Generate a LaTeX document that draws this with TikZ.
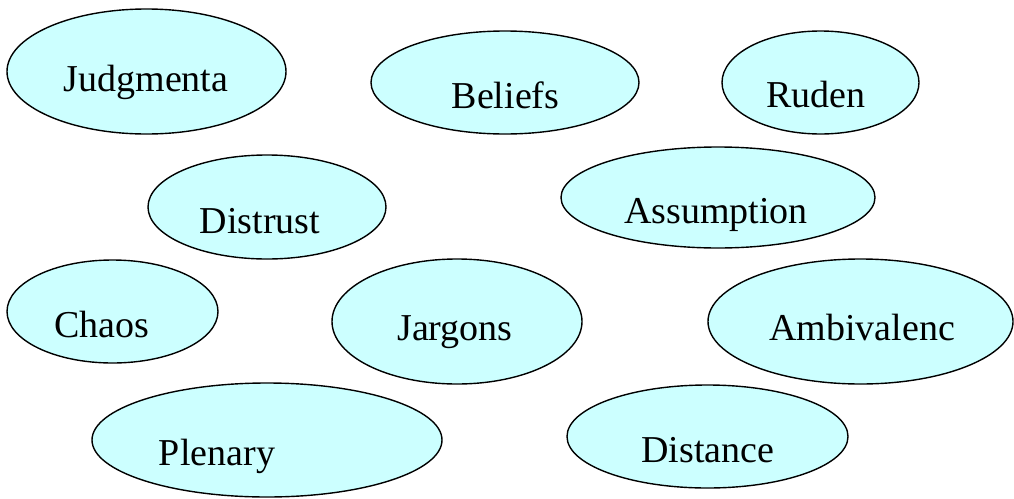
\documentclass[tikz,border=0pt]{standalone}
\usepackage{fontspec}
\setmainfont{Liberation Serif}
\usetikzlibrary{shapes.geometric}
\definecolor{bubblefill}{HTML}{CCFFFF}
\tikzset{
  bubble/.style={ellipse, draw=black, line width=1.4pt, fill=bubblefill, inner sep=0pt, outer sep=0pt},
  lbl/.style={anchor=base, inner sep=0pt, font=\fontsize{38}{40}\selectfont, text=black}
}
\begin{document}
\begin{tikzpicture}[x=1pt,y=-1pt]
\useasboundingbox (0,0) rectangle (1014,498);
\node[bubble, minimum width=279pt, minimum height=125pt] (judg) at (146.5,71.5) {};
\node[bubble, minimum width=268pt, minimum height=103pt] (beliefs) at (505,82.5) {};
\node[bubble, minimum width=197pt, minimum height=103pt] (ruden) at (820.5,82.5) {};
\node[bubble, minimum width=238pt, minimum height=104pt] (distrust) at (267,207) {};
\node[bubble, minimum width=314pt, minimum height=101pt] (assump) at (718,197.5) {};
\node[bubble, minimum width=211pt, minimum height=103pt] (chaos) at (112.5,311.5) {};
\node[bubble, minimum width=250pt, minimum height=125pt] (jargons) at (457,321.5) {};
\node[bubble, minimum width=305pt, minimum height=125pt] (ambiv) at (860.5,321.5) {};
\node[bubble, minimum width=350pt, minimum height=114pt] (plenary) at (267,440) {};
\node[bubble, minimum width=281pt, minimum height=103pt] (distance) at (707.5,436.5) {};
\node[lbl] (tjudg) at (146,91) {Judgmenta};
\node[lbl] (tbeliefs) at (505.5,108) {Beliefs};
\node[lbl] (truden) at (816,107) {Ruden};
\node[lbl] (tdistrust) at (260,233) {Distrust};
\node[lbl] (tassump) at (716,223) {Assumption};
\node[lbl] (tchaos) at (102,337) {Chaos};
\node[lbl] (tjargons) at (455,340) {Jargons};
\node[lbl] (tambiv) at (862,340) {Ambivalenc};
\node[lbl] (tplenary) at (217,465) {Plenary};
\node[lbl] (tdistance) at (708,462) {Distance};
\end{tikzpicture}
\end{document}
